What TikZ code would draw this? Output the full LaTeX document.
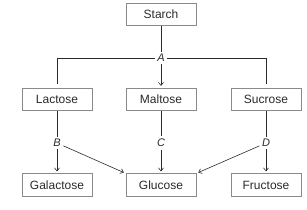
\documentclass[tikz,border=0pt]{standalone}
\usepackage{fontspec}
\setmainfont{Liberation Sans}
\usetikzlibrary{arrows.meta}
\definecolor{boxgray}{HTML}{8A8A8A}
\definecolor{inkgray}{HTML}{2A2A2A}
\begin{document}
\begin{tikzpicture}[x=1pt,y=-1pt,
  sugar/.style={draw=boxgray, line width=0.8pt, minimum width=70pt, minimum height=22.5pt, inner sep=0pt, text=inkgray, font=\fontsize{12}{14}\selectfont},
  enzyme/.style={inner sep=2.5pt, text=inkgray, font=\fontsize{11}{13}\selectfont\itshape},
  link/.style={draw=inkgray, line width=0.6pt},
  arr/.style={link, -{Straight Barb[length=3pt,width=5pt]}}]
\useasboundingbox (0,0) rectangle (307,209);
\node[sugar] (starch) at (161,14.5) {Starch};
\node[sugar] (lactose) at (57,99.5) {Lactose};
\node[sugar] (maltose) at (161,99.5) {Maltose};
\node[sugar] (sucrose) at (266,99.5) {Sucrose};
\node[sugar] (galactose) at (57,185) {Galactose};
\node[sugar] (glucose) at (161,185) {Glucose};
\node[sugar] (fructose) at (266,185) {Fructose};
\node[enzyme] (A) at (161,58) {A};
\node[enzyme] (B) at (57,143) {B};
\node[enzyme] (C) at (161,143) {C};
\node[enzyme] (D) at (266,143) {D};
\draw[link] (starch) -- (A);
\draw[link, shorten >=4pt] (A) -| (lactose);
\draw[link, shorten >=4pt] (A) -| (sucrose);
\draw[arr, shorten >=2pt] (A) -- (maltose);
\draw[link] (lactose) -- (B);
\draw[link] (maltose) -- (C);
\draw[link] (sucrose) -- (D);
\draw[arr, shorten >=2pt] (B) -- (galactose);
\draw[arr, shorten >=2pt] (C) -- (glucose);
\draw[arr, shorten >=2pt] (D) -- (fructose);
\draw[arr, shorten >=2pt] (B) -- (glucose.north west);
\draw[arr, shorten >=2pt] (D) -- (glucose.north east);
\end{tikzpicture}
\end{document}
